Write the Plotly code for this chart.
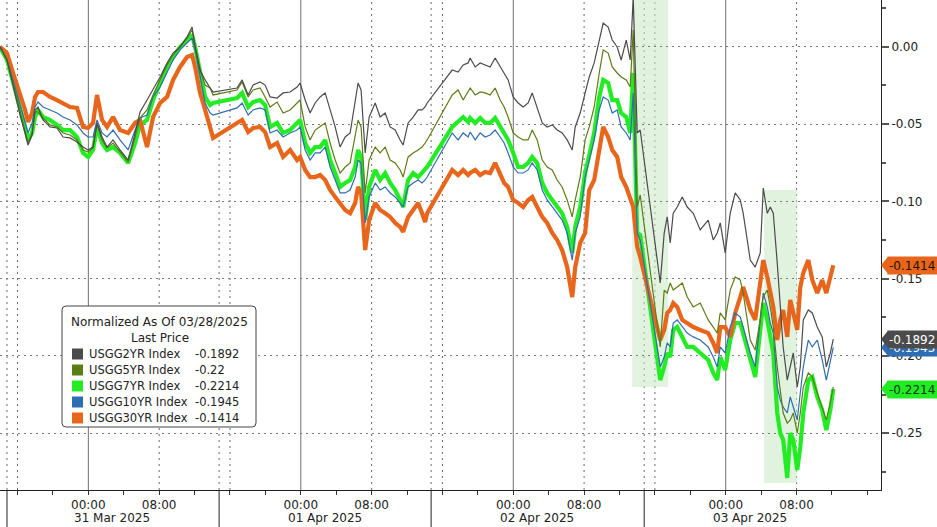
import pandas as pd
import plotly.graph_objects as go

# ---------------- data ----------------
BASE = pd.Timestamp("2025-03-31 00:00")

# time of each observation, hours from 31 Mar 2025 00:00
hours = [
    -9.98, -9.19, -8.51, -7.72, -7.15, -6.81, -6.36, -6.02, -5.68, -5.12,
    -4.32, -3.54, -2.86, -2.07, -1.28, -0.60, -0.03, 0.53, 0.98, 1.55,
    2.11, 2.79, 3.58, 4.49, 5.28, 5.84, 6.63, 7.31, 8.10, 8.89,
    9.57, 10.36, 11.15, 11.72, 12.06, 12.62, 13.19, 13.75, 14.09,
    16.80, 17.37, 18.05, 18.61, 19.40, 19.97, 20.53, 21.32, 22.00, 22.79,
    23.58, 23.92, 24.49, 25.05, 25.62, 26.18, 26.75, 27.31, 27.88, 28.44,
    29.01, 29.57, 30.14, 30.47, 30.81, 31.27, 31.72, 32.40, 32.96, 33.53,
    34.09, 34.66, 35.22, 35.56, 36.12, 36.69, 37.25, 37.70, 38.04, 38.27,
    41.10, 41.77, 42.34, 42.90, 43.13, 43.70, 44.26, 44.82, 45.39, 45.95,
    46.52, 46.97, 47.42, 47.99, 48.55, 49.12, 49.68, 50.14, 50.70, 51.27,
    51.83, 52.40, 52.96, 53.52, 54.09, 54.66, 55.00, 55.56, 56.12, 56.58,
    57.14, 57.71, 58.16, 58.72, 59.18, 59.74, 60.19, 60.76, 61.21, 61.55,
    62.00, 62.34,
    64.60, 65.05, 65.39, 65.73, 66.07, 66.52, 67.09, 67.65, 68.33, 69.12,
    70.02, 70.59, 71.04, 71.38, 71.94, 72.51, 73.07, 73.64, 73.97, 74.43,
    74.77, 75.33, 75.90, 76.24, 76.69, 77.03, 77.37, 77.82, 78.16, 78.49,
    78.95, 79.29, 79.63, 80.08, 80.42, 80.76, 81.33, 81.78, 82.34, 82.90,
    83.36, 83.81, 84.15,
]

# yield change since 03/28/2025, in basis points
usgg2yr_bp = [
    0, -0.86, -2.48, -4.42, -5.58, -6.36, -5.71, -4.09, -3.90, -4.74,
    -5.19, -5.26, -5.84, -5.90, -6.16, -6.49, -6.68, -6.49, -4.93, -5.84,
    -6.49, -6.03, -6.68, -7.33, -5.58, -4.22, -3.45, -2.80, -1.96, -1.05,
    -0.41, -0.02, 0.63, 1.27, -0.02, -1.51, -2.15, -2.67, -2.93,
    -2.67, -2.15, -3.12, -2.48, -2.28, -2.48, -3.25, -3.32, -2.99, -2.93,
    -2.61, -2.35, -3.45, -4.29, -3.64, -3.25, -2.99, -4.09, -5.19, -6.49,
    -5.84, -5.58, -3.64, -2.35, -2.80, -6.87, -4.55, -3.64, -4.55, -4.29,
    -5.19, -5.39, -6.03, -6.36, -4.93, -4.55, -4.09, -4.09, -3.90, -3.64,
    -1.51, -1.64, -1.18, -1.05, -0.73, -1.31, -1.05, -1.18, -1.31, -0.73,
    -1.31, -1.70, -2.15, -3.25, -3.64, -3.90, -3.64, -2.99, -3.90, -4.93,
    -5.19, -5.06, -5.39, -5.58, -6.03, -6.68, -5.19, -4.29, -2.99, -1.96,
    -1.05, 0.43, 1.53, 1.27, 0.43, -0.02, -0.86, 0.43, -0.86, 3.20,
    -5.58, -5.39,
    -15.28, -12.05, -11.01, -12.69, -10.77, -10.37, -9.72, -10.37, -10.77, -11.85,
    -11.21, -12.50, -12.05, -11.40, -13.34, -10.77, -9.46, -9.91, -10.77, -12.50,
    -13.80, -14.25, -13.34, -9.14, -10.77, -10.37, -10.77, -13.99, -16.83, -19.42,
    -21.56, -20.71, -19.81, -22.01, -20.71, -17.67, -17.03, -17.22, -18.13, -18.77,
    -20.71, -19.81, -18.92,
]

usgg5yr_bp = [
    0, -0.86, -2.35, -4.22, -5.39, -6.23, -5.58, -4.22, -4.22, -4.61,
    -5.06, -5.19, -5.58, -5.71, -6.03, -6.68, -6.81, -6.55, -5.06, -6.03,
    -6.55, -6.23, -6.81, -7.46, -5.84, -4.61, -4.09, -3.12, -2.15, -1.18,
    -0.54, -0.02, 0.56, 1.08, 0.11, -1.51, -2.48, -2.67, -3.12,
    -2.80, -2.28, -3.25, -2.80, -2.67, -3.25, -3.90, -3.58, -4.29, -4.09,
    -3.64, -3.45, -5.19, -6.03, -5.39, -5.19, -4.93, -6.23, -7.33, -8.17,
    -7.78, -7.52, -5.84, -4.74, -5.19, -9.46, -7.33, -6.49, -6.87, -6.49,
    -7.33, -7.52, -7.97, -8.43, -7.13, -6.87, -6.68, -6.49, -6.23, -6.03,
    -3.12, -2.80, -3.45, -2.93, -2.67, -3.12, -2.93, -2.99, -3.12, -2.67,
    -3.45, -3.90, -4.55, -5.58, -5.84, -6.03, -6.03, -5.39, -6.03, -7.33,
    -7.78, -7.97, -8.62, -9.07, -9.91, -11.01, -9.91, -8.43, -6.03, -5.19,
    -3.90, -1.70, -0.21, -0.41, -1.31, -1.70, -1.96, -2.15, -2.61, 1.08,
    -10.37, -9.59,
    -19.42, -15.74, -15.93, -15.28, -15.74, -15.54, -15.28, -16.19, -16.83, -16.58,
    -17.67, -18.13, -18.52, -17.22, -17.67, -15.74, -14.89, -15.09, -15.93, -17.67,
    -18.97, -19.62, -17.67, -16.19, -15.74, -16.83, -18.13, -20.71, -22.40, -23.69,
    -24.34, -24.14, -23.69, -24.99, -23.69, -22.01, -21.10, -21.36, -22.40, -23.30,
    -24.14, -23.04, -22.00,
]

usgg7yr_bp = [
    0, -0.86, -2.28, -3.90, -5.19, -6.03, -5.58, -4.55, -4.09, -4.55,
    -4.74, -5.06, -5.39, -5.39, -5.84, -6.87, -7.13, -6.68, -5.19, -6.23,
    -6.68, -6.49, -6.87, -7.52, -6.23, -5.06, -4.74, -3.45, -2.35, -1.31,
    -0.67, -0.02, 0.43, 0.76, -0.02, -1.70, -3.25, -3.77, -3.64,
    -3.32, -2.99, -3.90, -3.58, -3.45, -3.77, -5.19, -4.93, -5.58, -5.39,
    -4.93, -4.74, -6.23, -6.87, -6.49, -6.49, -6.03, -7.33, -8.17, -9.07,
    -8.81, -8.62, -7.78, -6.68, -7.13, -11.21, -9.07, -7.97, -8.62, -8.17,
    -8.81, -9.27, -9.91, -10.37, -8.62, -8.17, -8.43, -8.17, -7.97, -7.78,
    -5.19, -4.87, -4.55, -4.87, -4.61, -4.93, -4.61, -4.93, -4.93, -4.61,
    -5.19, -5.58, -6.03, -6.87, -7.78, -7.78, -7.52, -7.13, -7.52, -8.81,
    -9.46, -9.91, -10.37, -10.77, -11.66, -13.34, -11.66, -10.37, -8.17, -6.87,
    -5.58, -3.25, -2.15, -2.35, -3.45, -3.45, -4.29, -4.55, -5.58, -1.70,
    -12.05, -12.18,
    -21.56, -20.71, -19.81, -20.07, -18.32, -18.13, -18.77, -19.42, -19.42, -19.81,
    -20.26, -21.10, -21.56, -20.07, -20.91, -18.97, -17.87, -17.87, -18.52, -19.62,
    -20.26, -21.36, -18.32, -16.58, -17.67, -18.77, -19.81, -23.69, -24.99, -25.43,
    -27.89, -24.99, -25.43, -27.37, -25.89, -23.69, -21.56, -21.36, -22.65, -23.50,
    -24.79, -23.50, -22.14,
]

usgg10yr_bp = [
    0, -0.86, -2.15, -3.77, -4.87, -5.58, -4.93, -3.90, -3.58, -3.90,
    -4.09, -4.29, -4.55, -4.74, -5.06, -5.58, -5.84, -5.84, -4.74, -5.58,
    -5.84, -5.39, -6.03, -6.68, -5.39, -4.61, -4.42, -3.25, -2.61, -1.70,
    -0.86, -0.21, 0.24, 0.56, -0.21, -1.96, -3.64, -4.29, -4.42,
    -3.96, -3.64, -4.42, -4.09, -3.96, -4.09, -5.58, -5.39, -5.84, -5.58,
    -5.39, -5.19, -6.68, -7.33, -6.87, -6.87, -6.49, -7.78, -8.62, -9.46,
    -9.46, -9.27, -8.43, -7.33, -7.52, -11.40, -9.72, -8.81, -9.27, -9.07,
    -9.46, -9.72, -10.11, -10.37, -9.07, -8.81, -8.62, -8.81, -8.62, -8.43,
    -5.58, -6.03, -5.58, -5.84, -5.52, -6.03, -5.58, -5.84, -5.71, -5.39,
    -5.84, -6.23, -6.87, -7.78, -8.17, -8.17, -7.97, -7.52, -7.97, -9.27,
    -9.91, -10.37, -10.77, -11.21, -12.05, -13.80, -12.05, -11.01, -8.43, -7.33,
    -6.03, -4.09, -3.25, -3.45, -4.29, -4.09, -5.19, -5.58, -6.03, -2.99,
    -12.05, -12.50,
    -20.71, -20.07, -19.16, -19.42, -17.87, -17.67, -18.13, -18.52, -18.77, -18.97,
    -19.42, -20.07, -20.71, -19.42, -19.81, -18.13, -17.22, -17.48, -18.13, -19.16,
    -19.81, -20.71, -17.67, -15.93, -16.83, -17.87, -18.52, -22.01, -22.85, -23.30,
    -23.69, -22.65, -23.30, -24.14, -22.40, -20.71, -18.97, -19.42, -18.97, -20.26,
    -21.56, -20.26, -19.45,
]

usgg30yr_bp = [
    0, -0.41, -1.70, -2.99, -4.09, -4.87, -4.29, -3.25, -2.93, -2.93,
    -3.25, -3.45, -3.64, -3.90, -3.96, -5.19, -5.26, -4.93, -3.12, -4.74,
    -5.19, -4.55, -5.39, -5.58, -4.93, -4.74, -6.49, -4.55, -3.64, -3.25,
    -2.15, -1.31, -0.67, -0.54, -1.31, -2.99, -4.09, -5.39, -5.90,
    -4.93, -4.74, -5.52, -5.26, -5.19, -5.52, -6.49, -6.23, -7.13, -6.68,
    -7.33, -7.13, -7.97, -8.43, -8.43, -8.30, -8.62, -9.27, -9.72, -10.11,
    -10.56, -10.77, -10.11, -9.07, -9.46, -13.15, -11.21, -10.11, -10.56, -10.77,
    -11.01, -11.40, -11.66, -11.98, -11.01, -10.56, -10.11, -10.77, -11.34, -10.77,
    -7.97, -8.30, -7.97, -8.30, -8.17, -7.97, -8.30, -8.10, -8.17, -7.52,
    -8.17, -8.81, -9.07, -9.91, -10.11, -10.37, -9.91, -9.72, -10.37, -11.01,
    -11.40, -12.05, -12.50, -13.15, -14.25, -16.19, -14.25, -12.69, -12.05, -9.27,
    -8.62, -6.49, -5.19, -5.84, -6.68, -7.13, -8.43, -9.07, -9.91, -10.37,
    -12.95, -13.60,
    -18.97, -18.32, -17.22, -17.03, -16.58, -16.83, -17.67, -17.87, -18.13, -18.32,
    -18.52, -19.16, -19.81, -18.13, -18.13, -18.77, -17.22, -16.19, -15.54, -16.38,
    -17.03, -17.67, -15.28, -13.80, -14.89, -15.74, -16.83, -18.97, -17.67, -17.03,
    -18.77, -16.38, -17.22, -18.32, -15.54, -14.63, -13.80, -15.09, -15.93, -15.09,
    -15.93, -14.89, -14.14,
]

series_names = ["USGG2YR Index", "USGG5YR Index", "USGG7YR Index",
                "USGG10YR Index", "USGG30YR Index"]
series_bp = [usgg2yr_bp, usgg5yr_bp, usgg7yr_bp, usgg10yr_bp, usgg30yr_bp]
series_colors = ["#4b4b4b", "#5b7d14", "#24ec24", "#2f6db2", "#e8661c"]
series_widths = [1.2, 1.2, 4.2, 1.2, 4.2]
label_text_colors = ["#ffffff", "#ffffff", "#0a3a0a", "#ffffff", "#2a1000"]
draw_order = [2, 4, 3, 1, 0]          # thick lines first, thin on top
label_order = [3, 0, 2, 4]            # right-edge price tags (blue under gray)
legend_title = "Normalized As Of 03/28/2025"
legend_subtitle = "Last Price"

# axes
x_range_h = [-9.98, 89.54]
y_range = [-0.2867, 0.0302]
y_tickvals = [0.0, -0.05, -0.10, -0.15, -0.20, -0.25]
y_ticktext = ["0.00", "-0.05", "-0.10", "-0.15", "-0.20", "-0.25"]
y_minor_vals = [0.025, -0.025, -0.075, -0.125, -0.175, -0.225, -0.275]
x_tick_h = list(range(-8, 89, 4))
x_tick_labels = {0: "00:00", 8: "08:00", 24: "00:00", 32: "08:00",
                 48: "00:00", 56: "08:00", 72: "00:00", 80: "08:00"}
day_starts_h = [0, 24, 48, 72]
day_labels = ["31 Mar 2025", "01 Apr 2025", "02 Apr 2025", "03 Apr 2025"]
dotted_grid_h = [-8, 8, 16, 32, 40, 56, 64, 80]
session_break_h = [-9.19, 14.77, 38.72, 62.79]
# highlighted windows: (start h, end h, upper value, lower value)
shade_windows = [(61.44, 65.50, 0.0302, -0.2201), (76.35, 80.08, -0.0927, -0.2822)]

# ---------------- helpers ----------------
FONT = "DejaVu Sans"
W, H = 937, 527
M_L, M_R, M_T, M_B = 0, 56, 0, 37
PW, PH = W - M_L - M_R, H - M_T - M_B


def t(h):
    return BASE + pd.Timedelta(hours=h)


def fx(px):   # pixel inside plot -> paper x
    return px / PW


def fy(py):   # pixel inside plot -> paper y
    return 1 - py / PH


def vy(v):    # data value -> paper y
    return (v - y_range[0]) / (y_range[1] - y_range[0])


times = [t(h) for h in hours]

fig = go.Figure()
for i in draw_order:
    fig.add_trace(go.Scatter(
        x=times, y=[v / 100 for v in series_bp[i]], mode="lines",
        name=series_names[i],
        line=dict(color=series_colors[i], width=series_widths[i]),
        hoverinfo="skip"))

shapes = []
# shaded windows
for h0, h1, v0, v1 in shade_windows:
    shapes.append(dict(type="rect", xref="x", yref="y", x0=t(h0), x1=t(h1),
                       y0=v1, y1=v0, fillcolor="rgba(200,232,195,0.55)",
                       line=dict(width=0), layer="below"))
# day lines (solid)
for h in day_starts_h:
    shapes.append(dict(type="line", xref="x", yref="paper", x0=t(h), x1=t(h),
                       y0=0, y1=1, line=dict(color="#707070", width=1), layer="below"))
# dotted time grid
for h in dotted_grid_h:
    shapes.append(dict(type="line", xref="x", yref="paper", x0=t(h), x1=t(h),
                       y0=0, y1=1, line=dict(color="#6a6a6a", width=1, dash="2px,4px"),
                       layer="below"))
# session breaks: dotted in plot, solid in axis band
for h in session_break_h:
    shapes.append(dict(type="line", xref="x", yref="paper", x0=t(h), x1=t(h),
                       y0=0, y1=1, line=dict(color="#6a6a6a", width=1, dash="2px,4px"),
                       layer="below"))
    shapes.append(dict(type="line", xref="x", yref="paper", x0=t(h), x1=t(h),
                       y0=-M_B / PH, y1=0, line=dict(color="#222", width=1), layer="above"))

# legend box (rounded)
lx0, lx1, ly0, ly1, r = 62, 256, 306, 427, 4
path = (f"M {fx(lx0 + r)},{fy(ly0)} L {fx(lx1 - r)},{fy(ly0)} "
        f"Q {fx(lx1)},{fy(ly0)} {fx(lx1)},{fy(ly0 + r)} "
        f"L {fx(lx1)},{fy(ly1 - r)} Q {fx(lx1)},{fy(ly1)} {fx(lx1 - r)},{fy(ly1)} "
        f"L {fx(lx0 + r)},{fy(ly1)} Q {fx(lx0)},{fy(ly1)} {fx(lx0)},{fy(ly1 - r)} "
        f"L {fx(lx0)},{fy(ly0 + r)} Q {fx(lx0)},{fy(ly0)} {fx(lx0 + r)},{fy(ly0)} Z")
shapes.append(dict(type="path", xref="paper", yref="paper", path=path,
                   fillcolor="white", line=dict(color="#444", width=1), layer="above"))

annotations = []
annotations.append(dict(xref="paper", yref="paper", x=fx(159), y=fy(322), text=legend_title,
                        showarrow=False, xanchor="center", yanchor="middle",
                        font=dict(family=FONT, size=12, color="#222")))
annotations.append(dict(xref="paper", yref="paper", x=fx(160), y=fy(338), text=legend_subtitle,
                        showarrow=False, xanchor="center", yanchor="middle",
                        font=dict(family=FONT, size=12, color="#222")))


def fmt(v):
    s = f"{v:.4f}".rstrip("0")
    if s.endswith("."):
        s += "0"
    return s


for k, name in enumerate(series_names):
    cy = 354 + 16 * k
    last = series_bp[k][-1] / 100
    shapes.append(dict(type="rect", xref="paper", yref="paper",
                       x0=fx(72), x1=fx(83), y0=fy(cy - 5.5), y1=fy(cy + 5.5),
                       fillcolor=series_colors[k], line=dict(width=0), layer="above"))
    annotations.append(dict(xref="paper", yref="paper", x=fx(87), y=fy(cy), text=name,
                            showarrow=False, xanchor="left", yanchor="middle",
                            font=dict(family=FONT, size=11.5, color="#222")))
    annotations.append(dict(xref="paper", yref="paper", x=fx(193), y=fy(cy), text=fmt(last),
                            showarrow=False, xanchor="left", yanchor="middle",
                            font=dict(family=FONT, size=11.5, color="#222")))

# right-edge last-price tags
for k in label_order:
    last = series_bp[k][-1] / 100
    py = vy(last)
    half = 8.5 / PH
    shapes.append(dict(type="path", xref="paper", yref="paper",
                       path=f"M {fx(881)},{py} L {fx(888)},{py + half} L {fx(888)},{py - half} Z",
                       fillcolor=series_colors[k], line=dict(width=0), layer="above"))
    annotations.append(dict(xref="paper", yref="paper", x=fx(887), y=py, text=fmt(last),
                            showarrow=False, xanchor="left", yanchor="middle", align="left",
                            width=50, height=15, borderpad=1, bgcolor=series_colors[k],
                            font=dict(family=FONT, size=12, color=label_text_colors[k])))

# date labels under the time ticks
for h, lab in zip(day_starts_h, day_labels):
    annotations.append(dict(xref="x", yref="paper", x=t(h + 2.7), y=fy(518), text=lab,
                            showarrow=False, xanchor="center", yanchor="middle",
                            font=dict(family=FONT, size=12, color="#222")))

fig.update_layout(
    width=W, height=H, margin=dict(l=M_L, r=M_R, t=M_T, b=M_B, pad=0),
    paper_bgcolor="white", plot_bgcolor="white", showlegend=False,
    font=dict(family=FONT, size=12, color="#222"),
    shapes=shapes, annotations=annotations, hovermode=False,
    xaxis=dict(type="date", range=[t(x_range_h[0]), t(x_range_h[1])],
               tickmode="array", tickvals=[t(h) for h in x_tick_h],
               ticktext=[x_tick_labels.get(h, "") for h in x_tick_h],
               ticks="outside", ticklen=4, tickcolor="#333", showgrid=False,
               showline=True, linecolor="#222", linewidth=1, zeroline=False,
               tickfont=dict(family=FONT, size=12, color="#222")),
    yaxis=dict(side="right", range=y_range, tickmode="array", tickvals=y_tickvals,
               ticktext=y_ticktext, ticks="outside", ticklen=7, tickwidth=2,
               tickcolor="#555", showgrid=True, gridcolor="#7a7a7a", gridwidth=1,
               griddash="2px,4px", showline=True, linecolor="#222", linewidth=1,
               zeroline=False, tickfont=dict(family=FONT, size=12, color="#222"),
               minor=dict(tickmode="array", tickvals=y_minor_vals, ticks="outside",
                          ticklen=4, tickcolor="#555", showgrid=False)),
)

fig.write_html(
    "out.html",
    config={"displayModeBar": False, "staticPlot": True},
    post_script="document.body.style.margin='0px';document.body.style.overflow='hidden';",
)
